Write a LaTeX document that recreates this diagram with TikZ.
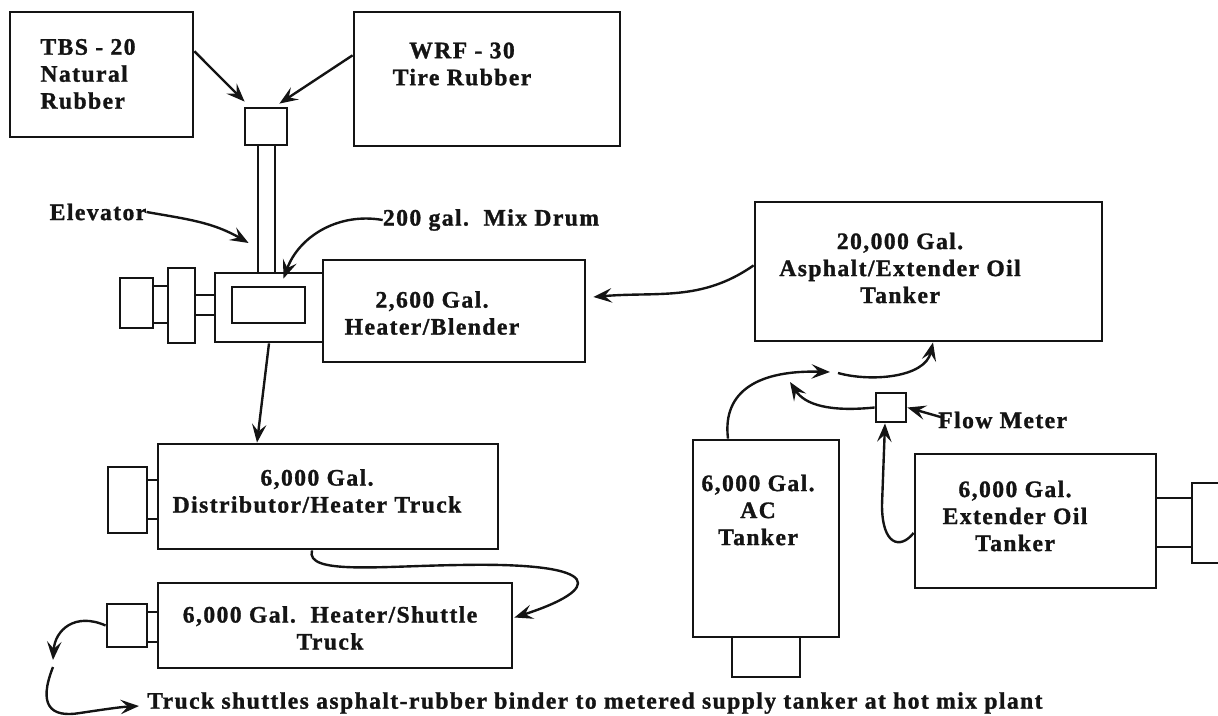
\documentclass[tikz,border=0pt]{standalone}
\usepackage{fontspec}
\setmainfont{Liberation Serif}[LetterSpace=6, BoldFeatures={FakeBold=1.2}]
\usetikzlibrary{arrows.meta}
\definecolor{plink}{HTML}{141414}
\tikzset{
  pl text/.style={font=\fontsize{16.8}{19.2}\selectfont\bfseries, text=plink},
  pl box/.style={draw=plink, line width=2pt, inner sep=0pt},
  pl size/.style 2 args={minimum width=#1*0.025cm, minimum height=#2*0.025cm},
  pl arrow/.style={-{Stealth[length=4.6mm,width=3.6mm,inset=1.8mm]}, line width=1.7pt,
    draw=plink},
  pl label/.style={pl text, align=center, inner sep=0pt}
}

\begin{document}
\begin{tikzpicture}[pl text, x=0.025cm, y=-0.025cm]
  \useasboundingbox (0,0) rectangle (1218,716);
  % rubber feed and blender
  \node[pl box, pl size={183}{125}] (tbs) at (101.5,74.5) {};
  \node[pl box, pl size={266}{134}] (wrf) at (487,79) {};
  \node[pl box, pl size={42}{37}] (hopper) at (266,126.5) {};
  \node[pl box, pl size={17}{128}] (elevator) at (266.5,209) {};
  \node[pl box, pl size={108}{69}] (mixer) at (269,307.5) {};
  \node[pl box, pl size={73}{36}] (drum) at (268.5,305) {};
  \node[pl box, pl size={262}{102}] (blender) at (454,311) {};
  \node[pl box, pl size={20}{20}] (coupA) at (205,305) {};
  \node[pl box, pl size={27}{75}] (gearbox) at (181.5,305.5) {};
  \node[pl box, pl size={15}{37}] (coupB) at (160.5,304.5) {};
  \node[pl box, pl size={33}{50}] (motor) at (136.5,303) {};
  % tankers
  \node[pl box, pl size={347}{139}] (bigtank) at (928.5,271.5) {};
  \node[pl box, pl size={146}{197}] (actank) at (766,538.5) {};
  \node[pl box, pl size={68}{40}] (accab) at (766,657) {};
  \node[pl box, pl size={30}{29}] (meter) at (891,407.5) {};
  \node[pl box, pl size={241}{134}] (oiltank) at (1035.5,521) {};
  \node[pl box, pl size={36}{49}] (oillink) at (1174,522.5) {};
  \draw[pl box] (1218,483) -- (1192,483) -- (1192,563) -- (1218,563);
  % trucks
  \node[pl box, pl size={340}{105}] (distrib) at (328,496.5) {};
  \node[pl box, pl size={11}{39}] (distlink) at (152.5,499.5) {};
  \node[pl box, pl size={39}{66}] (distcab) at (127.5,500) {};
  \node[pl box, pl size={354}{85}] (shuttle) at (335,625.5) {};
  \node[pl box, pl size={11}{30}] (shutlink) at (152.5,627) {};
  \node[pl box, pl size={40}{43}] (shutcab) at (127,625.5) {};

  \node[pl label, align=left] (tbstext) at (88,74) {TBS - 20\\Natural\\Rubber};
  \node[pl label] (wrftext) at (462,64) {WRF - 30\\Tire Rubber};
  \node[pl label] (blendtext) at (432,313) {2,600 Gal.\\Heater/Blender};
  \node[pl label] (bigtext) at (900,268) {20,000 Gal.\\Asphalt/Extender Oil\\Tanker};
  \node[pl label] (actext) at (758,510) {6,000 Gal.\\AC\\Tanker};
  \node[pl label] (oiltext) at (1015,516) {6,000 Gal.\\Extender Oil\\Tanker};
  \node[pl label] (disttext) at (317,491) {6,000 Gal.\\Distributor/Heater Truck};
  \node[pl label] (shuttext) at (330,628) {6,000 Gal.\ \ Heater/Shuttle\\Truck};
  \node[pl label] (elevlbl) at (98,212) {Elevator};
  \node[pl label] (drumlbl) at (491,220) {200 gal.\ \ Mix Drum};
  \node[pl label, anchor=west] (meterlbl) at (938,420) {Flow Meter};
  \node[pl label, anchor=west] (shuttlenote) at (147,703)
    {Truck shuttles asphalt-rubber binder to metered supply tanker at hot mix plant};

  \coordinate (loopA) at (53,660);
  \coordinate (loopB) at (53,667);
  \coordinate (acjoin) at (830,372);
  \coordinate (meterjoin) at (790,382);
  \coordinate (tojoin) at (838,373);

  \draw[pl arrow] (tbs.14) -- ([shift={(1,-5)}]hopper.north west);
  \draw[pl arrow] (wrf.170) -- ([shift={(-9,-3)}]hopper.north east);
  \draw[pl arrow] (elevlbl.east) to[out=-10,in=150] ([shift={(-8,34)}]elevator.west);
  \draw[pl arrow] (drumlbl.west) to[out=170,in=70] ([shift={(15,-7)}]drum.north);
  \draw[pl arrow] (bigtank.178) to[out=215,in=5] ([shift={(7,-14)}]blender.east);
  \draw[pl arrow] (mixer.south) -- ([shift={(-71,0)}]distrib.north);
  \draw[pl arrow] ([shift={(-16,0)}]distrib.south) .. controls (305,575) and (380,566)
    .. (460,565) .. controls (610,562) and (600,590) .. ([shift={(1,-8)}]shuttle.east);
  \draw[pl arrow] (shutcab.west) .. controls (75,612) and (55,630) .. (loopA);
  \draw[pl arrow] (loopB) .. controls (38,705) and (50,718) .. (80,713)
    .. controls (100,710) and (120,707) .. ([shift={(-8,3)}]shuttlenote.west);
  \draw[pl arrow] ([shift={(-38,0)}]actank.north) .. controls (722,390) and (760,370)
    .. (acjoin);
  \draw[pl arrow] (meter.west) .. controls (830,412) and (805,405) .. (meterjoin);
  \draw[pl arrow] (tojoin) .. controls (870,382) and (925,378)
    .. ([shift={(4.5,0)}]bigtank.south);
  \draw[pl arrow] ([shift={(0,12)}]oiltank.west) .. controls (900,550) and (882,545)
    .. (882,505) -- ([shift={(-6,0)}]meter.south);
  \draw[pl arrow] ([shift={(6,-2)}]meterlbl.west) -- (meter.east);
\end{tikzpicture}
\end{document}
